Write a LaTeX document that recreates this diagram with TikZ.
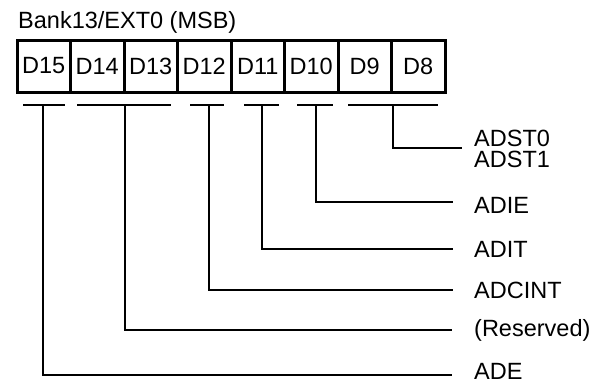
\documentclass[tikz,border=0pt]{standalone}
\usepackage{fontspec}
\setmainfont{Liberation Sans}
\begin{document}
\begin{tikzpicture}[x=1pt,y=-1pt,
  font=\fontsize{23.5}{21}\selectfont,
  cell/.style={draw, line width=3pt, minimum width=53.5pt, minimum height=52pt, inner sep=0pt, anchor=center},
  wire/.style={line width=2pt},
  lbl/.style={anchor=base west, inner sep=0pt}]
\useasboundingbox (0,0) rectangle (605,383);
\node[lbl] (title) at (18,28) {Bank13/EXT0 (MSB)};
\foreach \n [count=\i from 0] in {15,14,13,12,11,10,9,8}
  \node[cell] (d\n) at ({17+53.5*(\i+0.5)},66) {D\n};
% underlines
\draw[wire] (23,105) -- (65,105);
\draw[wire] (77,105) -- (171,105);
\draw[wire] (190,105) -- (224,105);
\draw[wire] (244,105) -- (279,105);
\draw[wire] (297,105) -- (333,105);
\draw[wire] (348,105) -- (438,105);
% labels
\node[anchor=west, inner sep=0pt, align=left] (adst) at (474,149) {ADST0\\ADST1};
\node[lbl] (adie) at (474,213) {ADIE};
\node[lbl] (adit) at (474,257) {ADIT};
\node[lbl] (adcint) at (474,298) {ADCINT};
\node[lbl] (res) at (474,336) {(Reserved)};
\node[lbl] (ade) at (474,379.5) {ADE};
% connector ends
\coordinate (t98) at (393,105);  \coordinate (e98) at (462,148);
\coordinate (t10) at (316,105);  \coordinate (e10) at (453,202);
\coordinate (t11) at (262,105);  \coordinate (e11) at (453,249);
\coordinate (t12) at (209,105);  \coordinate (e12) at (453,290);
\coordinate (t1413) at (125,105); \coordinate (e1413) at (452,330);
\coordinate (t15) at (43,105);   \coordinate (e15) at (452,375);
\draw[wire] (t98) |- (e98);
\draw[wire] (t10) |- (e10);
\draw[wire] (t11) |- (e11);
\draw[wire] (t12) |- (e12);
\draw[wire] (t1413) |- (e1413);
\draw[wire] (t15) |- (e15);
\end{tikzpicture}
\end{document}
